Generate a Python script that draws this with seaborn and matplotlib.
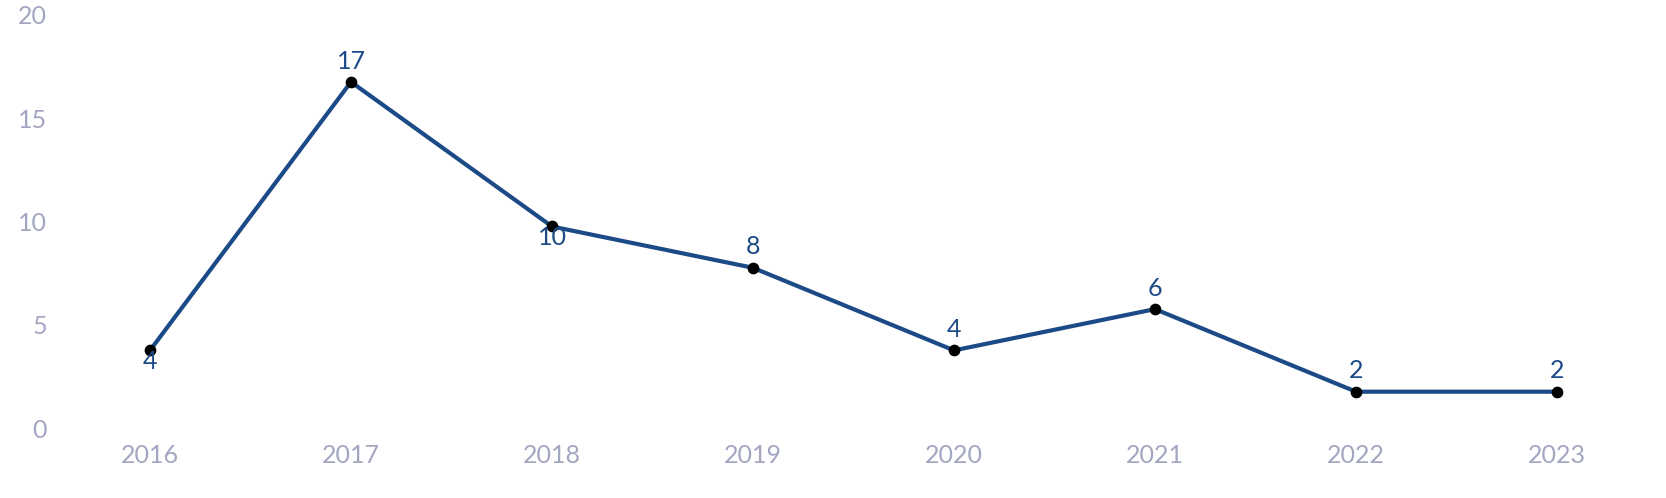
import matplotlib.pyplot as plt
import matplotlib.transforms as mtransforms
import seaborn as sns
import pandas as pd

# values
years = ["2016", "2017", "2018", "2019", "2020", "2021", "2022", "2023"]
counts = [4, 17, 10, 8, 4, 6, 2, 2]
label_below = [True, False, True, False, False, False, False, False]

df = pd.DataFrame({"year": years, "count": counts})

sns.set_style("white")
plt.rcParams["font.family"] = ["Lato", "DejaVu Sans"]

line_color = "#1c4a87"
tick_color = "#a3a6c0"

fig = plt.figure(figsize=(16.66, 4.98), dpi=100)
ax = fig.add_axes([49.5 / 1666, 65 / 498, 1608 / 1666, 413 / 498])

x = list(range(len(years)))
sns.lineplot(x=x, y=df["count"], ax=ax, color=line_color, linewidth=3.0)
ax.scatter(x, df["count"], color="black", s=55, zorder=3, clip_on=False)

for xi, v, below in zip(x, df["count"], label_below):
    if below:
        ax.annotate(str(v), (xi, v), xytext=(0, -8), textcoords="offset points",
                    ha="center", va="center", fontsize=18, color=line_color)
    else:
        ax.annotate(str(v), (xi, v), xytext=(0, 15), textcoords="offset points",
                    ha="center", va="center", fontsize=18, color=line_color)

ax.set_xlim(-0.5, 7.5)
ax.set_ylim(0, 20)
ax.set_xticks(x)
ax.set_xticklabels(years)
ax.set_yticks([0, 5, 10, 15, 20])
ax.tick_params(axis="both", length=0, labelsize=18, labelcolor=tick_color)
ax.tick_params(axis="x", pad=8)
ax.tick_params(axis="y", pad=2)

# y labels sit a little above their tick positions
shift = mtransforms.ScaledTranslation(0, 5 / 100, fig.dpi_scale_trans)
for lab in ax.get_yticklabels():
    lab.set_transform(lab.get_transform() + shift)

ax.set_xlabel("")
ax.set_ylabel("")
sns.despine(ax=ax, left=True, bottom=True)

fig.savefig("out.png", dpi=100)
